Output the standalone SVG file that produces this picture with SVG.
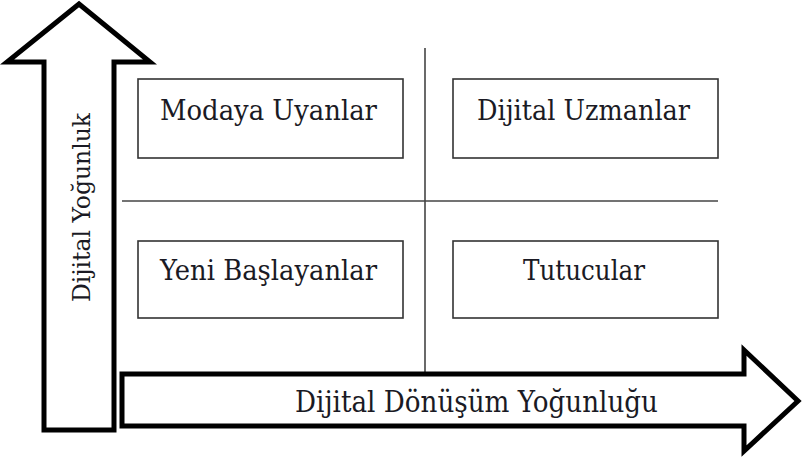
<svg xmlns="http://www.w3.org/2000/svg" width="803" height="462" viewBox="0 0 803 462">
<style>
.arrow{fill:#fff;stroke:#000;stroke-width:5;stroke-linejoin:miter}
.box{fill:#fff;stroke:#333;stroke-width:1.6}
.grid{stroke:#444;stroke-width:1.6;fill:none}
.t{font-family:"DejaVu Serif",serif;fill:#1a1a24}
</style>
<rect width="803" height="462" fill="#fff"/>
<g id="connectors">
<line class="grid" x1="425" y1="48" x2="425" y2="374"/>
<line class="grid" x1="122" y1="201" x2="718" y2="201"/>
</g>
<g id="y-axis">
<polygon class="arrow" points="79,4 150,62 114,62 114,430 44,430 44,62 7,62"/>
<text class="t" font-size="24" text-anchor="middle" transform="translate(90,207.5) rotate(-90)" textLength="189" lengthAdjust="spacingAndGlyphs">Dijital Yoğunluk</text>
</g>
<g id="x-axis">
<polygon class="arrow" points="122,374 744,374 744,350 798,401 744,451 744,426 122,426"/>
<text class="t" font-size="29" x="476.5" y="412" text-anchor="middle" textLength="363" lengthAdjust="spacingAndGlyphs">Dijital Dönüşüm Yoğunluğu</text>
</g>
<g id="modaya">
<rect class="box" x="138" y="79" width="265" height="79"/>
<text class="t" font-size="27" x="268.5" y="120" text-anchor="middle" textLength="217" lengthAdjust="spacingAndGlyphs">Modaya Uyanlar</text>
</g>
<g id="uzmanlar">
<rect class="box" x="453" y="79" width="265" height="79"/>
<text class="t" font-size="27" x="583.5" y="120" text-anchor="middle" textLength="213" lengthAdjust="spacingAndGlyphs">Dijital Uzmanlar</text>
</g>
<g id="baslayanlar">
<rect class="box" x="138" y="241" width="265" height="77"/>
<text class="t" font-size="27" x="268.5" y="280" text-anchor="middle" textLength="217" lengthAdjust="spacingAndGlyphs">Yeni Başlayanlar</text>
</g>
<g id="tutucular">
<rect class="box" x="453" y="241" width="265" height="77"/>
<text class="t" font-size="27" x="584" y="280" text-anchor="middle" textLength="122" lengthAdjust="spacingAndGlyphs">Tutucular</text>
</g>
</svg>
